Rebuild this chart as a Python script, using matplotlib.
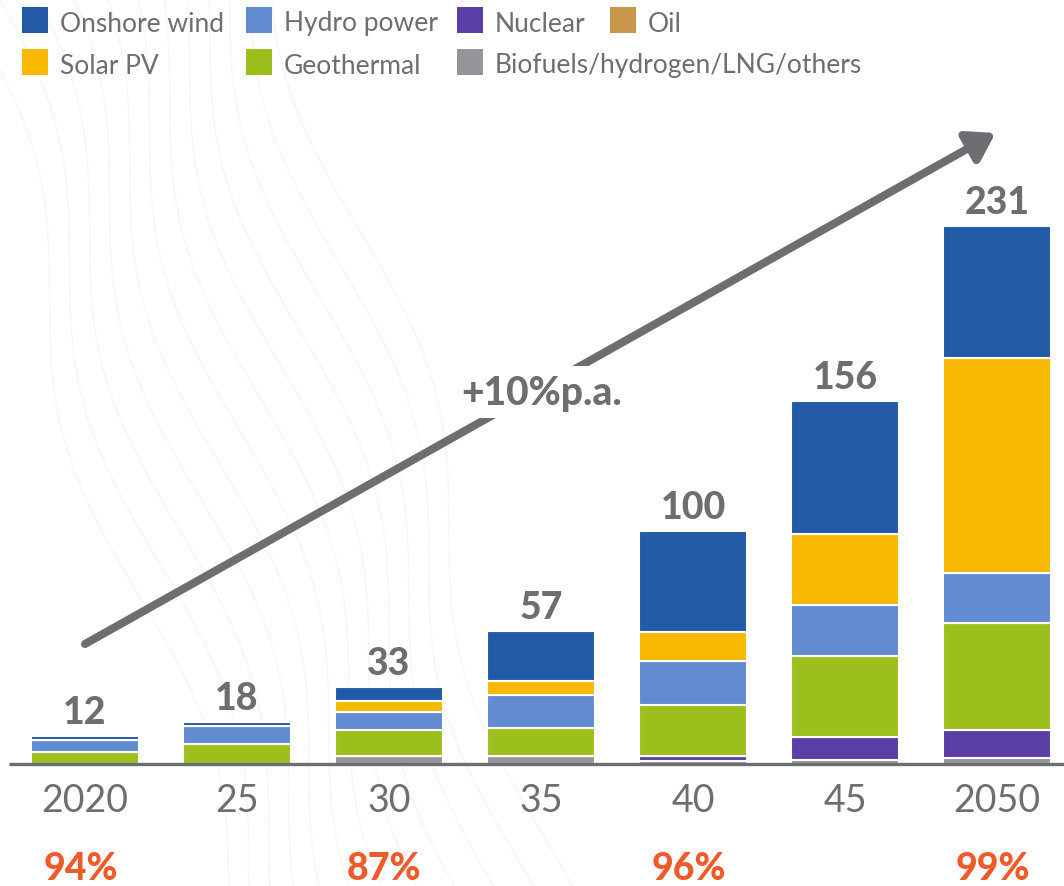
import numpy as np
import matplotlib.pyplot as plt
from matplotlib.patches import Rectangle

# ---- data -------------------------------------------------------------
periods = ["2020", "25", "30", "35", "40", "45", "2050"]
totals = [12, 18, 33, 57, 100, 156, 231]
share_labels = {0: "94%", 2: "87%", 4: "96%", 6: "99%"}
growth_label = "+10%p.a."

biofuels = [0, 0, 3.5, 3.5, 1.3, 1.7, 2.7]
nuclear = [0, 0, 0, 0, 2.0, 10.0, 11.7]
oil = [0, 0, 0, 0, 0, 0, 0]
geothermal = [5.3, 8.5, 11.0, 12.0, 22.0, 34.6, 46.0]
hydro = [5.2, 8.0, 8.0, 14.0, 19.0, 21.8, 21.5]
solar = [0, 0, 4.5, 6.0, 12.5, 30.7, 92.3]
onshore_wind = [1.5, 1.5, 6.0, 21.5, 43.2, 57.2, 56.8]

# stacking order, bottom to top
stack = [
    ("Biofuels/hydrogen/LNG/others", biofuels, "#939598"),
    ("Nuclear", nuclear, "#5a3ea6"),
    ("Oil", oil, "#c8974a"),
    ("Geothermal", geothermal, "#9dbf1c"),
    ("Hydro power", hydro, "#628bd0"),
    ("Solar PV", solar, "#f9b800"),
    ("Onshore wind", onshore_wind, "#235aa6"),
]
colors = {name: c for name, _, c in stack}
legend_rows = [
    ["Onshore wind", "Hydro power", "Nuclear", "Oil"],
    ["Solar PV", "Geothermal", "Biofuels/hydrogen/LNG/others"],
]

GREY = "#6d6e71"
ORANGE = "#f05a28"
plt.rcParams["font.family"] = ["Lato", "DejaVu Sans"]

# ---- figure & axes ----------------------------------------------------
W, H, DPI = 1064, 887, 100
fig = plt.figure(figsize=(W / DPI, H / DPI), dpi=DPI)
fig.patch.set_facecolor("white")

# faint wavy background lines
bg = fig.add_axes([0, 0, 1, 1], zorder=0)
bg.set_xlim(0, W)
bg.set_ylim(H, 0)
bg.axis("off")
t = np.linspace(-50, H + 50, 400)
for k in range(12):
    x0 = -40 + k * 30
    xs = x0 + 28 * np.sin(t / 95.0 + k * 0.35) + 0.3 * t
    bg.plot(xs, t, color="#f6f6f6", lw=1.1, zorder=0)

base_px = 765
px_per_unit = 2.33
x0_px, step_px = 85, 152
ax = fig.add_axes([0, (H - base_px) / H, 1, base_px / H], zorder=1)
ax.patch.set_alpha(0)
ax.set_ylim(0, base_px / px_per_unit)
ax.set_xlim(-x0_px / step_px, (W - x0_px) / step_px)
ax.axis("off")

x = np.arange(len(periods))
bottom = np.zeros(len(periods))
for name, vals, col in stack:
    vals = np.array(vals, dtype=float)
    ax.bar(x, vals, bottom=bottom, width=0.704, color=col,
           edgecolor="white", linewidth=1.5, zorder=3)
    bottom += vals

# baseline
ax.plot([-0.5, 6.6], [0, 0], color=GREY, lw=2.4, zorder=4,
        solid_capstyle="butt", clip_on=False)

# totals above bars
for xi, tot in zip(x, totals):
    ax.annotate(str(tot), (xi, tot), xytext=(0, 5), textcoords="offset points",
                ha="center", va="bottom", fontsize=27, fontweight="black",
                color=GREY, zorder=5)

# period labels
for xi, lab in zip(x, periods):
    ax.text(xi, -36 / px_per_unit, lab, ha="center", va="center",
            fontsize=27, fontweight="normal", color=GREY, clip_on=False)

# share labels
for xi, lab in share_labels.items():
    ax.text(xi - 0.03, -104 / px_per_unit, lab, ha="center", va="center",
            fontsize=27, fontweight="black", color=ORANGE, clip_on=False)

# growth arrow
ax.annotate("", xy=(5.99, (base_px - 134) / px_per_unit),
            xytext=(0.0, (base_px - 645) / px_per_unit),
            arrowprops=dict(arrowstyle="-|>,head_length=0.7,head_width=0.45",
                            color=GREY, lw=5.8, mutation_scale=23,
                            shrinkA=0, shrinkB=0),
            zorder=2)
ax.text((542 - x0_px) / step_px, (base_px - 393) / px_per_unit, growth_label,
        ha="center", va="center", fontsize=28, fontweight="black", color=GREY,
        zorder=6,
        bbox=dict(boxstyle="square,pad=0.2", facecolor="white",
                  edgecolor="none"))

# legend
col_px = [22, 246, 457, 610]
row_px = [21, 63]
for r, row in enumerate(legend_rows):
    for c, name in enumerate(row):
        lx, ly = col_px[c], row_px[r]
        fig.patches.append(Rectangle((lx / W, 1 - (ly + 13) / H), 26 / W, 26 / H,
                                     transform=fig.transFigure,
                                     facecolor=colors[name], edgecolor="none",
                                     zorder=5))
        fig.text((lx + 38) / W, 1 - (ly + 3) / H, name, ha="left", va="center",
                 fontsize=19, fontweight="normal", color=GREY, zorder=5)

fig.savefig("out.png", dpi=DPI, facecolor="white")
